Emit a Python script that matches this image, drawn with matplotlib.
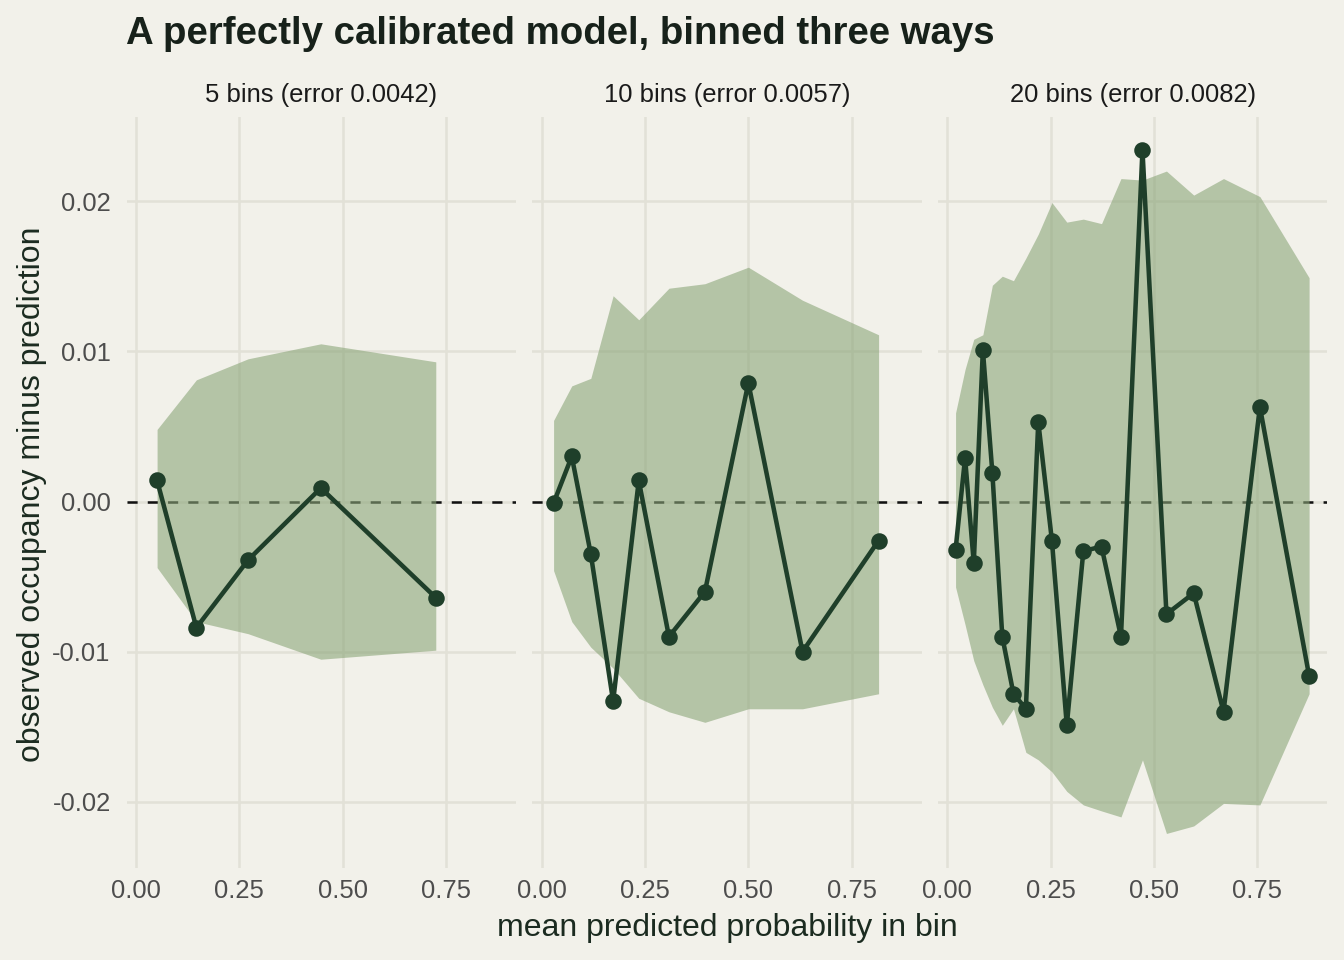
import matplotlib.pyplot as plt

plt.rcParams['font.family'] = ['Liberation Sans', 'DejaVu Sans']

# panel titles
panel_titles = ['5 bins (error 0.0042)', '10 bins (error 0.0057)', '20 bins (error 0.0082)']

# 5 bins
bins5_x = [0.051, 0.146, 0.271, 0.447, 0.725]
bins5_y = [0.0014, -0.0084, -0.0039, 0.0009, -0.0064]
bins5_lo = [-0.0044, -0.0080, -0.0088, -0.0105, -0.0099]
bins5_hi = [0.0048, 0.0081, 0.0095, 0.0105, 0.0093]

# 10 bins
bins10_x = [0.029, 0.073, 0.119, 0.173, 0.235, 0.308, 0.395, 0.500, 0.631, 0.815]
bins10_y = [-0.0001, 0.0030, -0.0035, -0.0133, 0.0014, -0.0090, -0.0060, 0.0079, -0.0100, -0.0026]
bins10_lo = [-0.0046, -0.0080, -0.0097, -0.0111, -0.0131, -0.0140, -0.0147, -0.0138, -0.0138, -0.0128]
bins10_hi = [0.0054, 0.0077, 0.0082, 0.0137, 0.0121, 0.0142, 0.0145, 0.0156, 0.0134, 0.0111]

# 20 bins
bins20_x = [0.020, 0.043, 0.064, 0.086, 0.109, 0.133, 0.160, 0.190, 0.220, 0.253,
            0.289, 0.329, 0.373, 0.420, 0.472, 0.530, 0.596, 0.668, 0.756, 0.875]
bins20_y = [-0.0032, 0.0029, -0.0041, 0.0101, 0.0019, -0.0090, -0.0128, -0.0138, 0.0053, -0.0026,
            -0.0149, -0.0033, -0.0030, -0.0090, 0.0234, -0.0075, -0.0061, -0.0140, 0.0063, -0.0116]
bins20_lo = [-0.0057, -0.0082, -0.0106, -0.0122, -0.0137, -0.0149, -0.0138, -0.0167, -0.0172, -0.0180,
             -0.0193, -0.0202, -0.0206, -0.0210, -0.0172, -0.0221, -0.0216, -0.0201, -0.0202, -0.0128]
bins20_hi = [0.0059, 0.0088, 0.0108, 0.0111, 0.0144, 0.0150, 0.0147, 0.0162, 0.0178, 0.0199,
             0.0186, 0.0188, 0.0185, 0.0215, 0.0214, 0.0220, 0.0204, 0.0215, 0.0203, 0.0149]

panels = [
    (bins5_x, bins5_y, bins5_lo, bins5_hi),
    (bins10_x, bins10_y, bins10_lo, bins10_hi),
    (bins20_x, bins20_y, bins20_lo, bins20_hi),
]

bg = '#F2F1EA'
grid = '#E2E1D7'
ribbon = '#8BA679'
dark = '#1F3F2A'

fig = plt.figure(figsize=(7, 5), dpi=192, facecolor=bg)

lefts = [126.7, 532.3, 938.0]
width = 389.5
for i, (x, y, lo, hi) in enumerate(panels):
    ax = fig.add_axes([lefts[i] / 1344, 1 - 868 / 960, width / 1344, (868 - 117) / 960])
    ax.set_facecolor(bg)
    for s in ax.spines.values():
        s.set_visible(False)
    ax.set_xlim(-0.0225, 0.9195)
    ax.set_ylim(-0.0244, 0.0256)
    ax.set_xticks([0, 0.25, 0.5, 0.75])
    ax.set_xticklabels(['0.00', '0.25', '0.50', '0.75'])
    ax.set_yticks([-0.02, -0.01, 0, 0.01, 0.02])
    ax.set_yticklabels(['-0.02', '-0.01', '0.00', '0.01', '0.02'])
    ax.grid(True, color=grid, linewidth=0.95)
    ax.set_axisbelow(True)
    ax.tick_params(length=0, labelsize=9.6, labelcolor='#4D4D4D', pad=4)
    ax.tick_params(axis='y', pad=6)
    if i > 0:
        ax.tick_params(axis='y', labelleft=False)

    # zero line sits under the ribbon
    ax.axhline(0, color='#111111', linewidth=0.95, linestyle=(0, (4, 4)), zorder=1)
    ax.fill_between(x, lo, hi, color=ribbon, alpha=0.6, linewidth=0, zorder=2)
    ax.plot(x, y, color=dark, linewidth=1.7, marker='o', markersize=5.2, zorder=3)

    fig.text((lefts[i] + width / 2) / 1344, 1 - 102 / 960, panel_titles[i],
             ha='center', va='baseline', fontsize=9.6, color='#1A1A1A')

fig.text(126 / 1344, 1 - 44 / 960, 'A perfectly calibrated model, binned three ways',
         ha='left', va='baseline', fontsize=14.4, fontweight='bold', color='#17211A')
fig.text(727 / 1344, 1 - 928 / 960, 'mean predicted probability in bin',
         ha='center', va='center', fontsize=12, color='#1B2B20')
fig.text(32 / 1344, 1 - 494 / 960, 'observed occupancy minus prediction',
         ha='center', va='center', rotation=90, fontsize=12, color='#1B2B20')

plt.savefig('out.png', dpi=192, facecolor=bg)
